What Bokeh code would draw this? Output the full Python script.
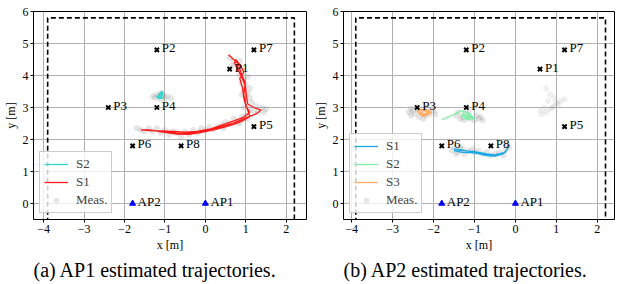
from bokeh.plotting import figure
from bokeh.models import ColumnDataSource, Legend, LegendItem, Title, FixedTicker, Range1d
from bokeh.layouts import row
from bokeh.embed import file_html
from bokeh.resources import INLINE
from bokeh.core.properties import value

# ---------------- data ----------------
pts_names = ["P1", "P2", "P3", "P4", "P5", "P6", "P7", "P8"]
pts_x = [0.6, -1.2, -2.4, -1.2, 1.2, -1.8, 1.2, -0.6]
pts_y = [4.2, 4.8, 3.0, 3.0, 2.4, 1.8, 4.8, 1.8]

ap_names = ["AP1", "AP2"]
ap_x = [0.0, -1.8]
ap_y = [0.0, 0.0]

room_x = [-3.9, -3.9, 2.2, 2.2]
room_y = [-0.6, 5.8, 5.8, -0.6]

x_ticks = [-4, -3, -2, -1, 0, 1, 2]
y_ticks = [0, 1, 2, 3, 4, 5, 6]

# Panel (a): AP1
a_s1_x = [0.57, 0.7, 0.8, 0.85, 0.92, 0.98, 1.0, 1.02, 1.05, 1.2, 1.38, 1.25, 1.1, 0.9, 0.7, 0.5, 0.25, 0.0,
          -0.25, -0.5, -0.75, -1.0, -1.2, -1.4, -1.6,
          -1.3, -1.0, -0.7, -0.4, -0.1, 0.2, 0.45, 0.7, 0.95, 1.1, 1.05, 1.0, 0.95, 0.98, 0.9, 0.8, 0.72, 0.75,
          0.78, 0.88, 0.95, 0.85, 0.92, 0.95, 1.0, 1.1, 0.95, 0.7, 0.4, 0.1, -0.2, -0.5, -0.8, -1.1, -1.4, -1.55]
a_s1_y = [4.65, 4.5, 4.38, 4.2, 3.95, 3.8, 3.55, 3.3, 3.1, 3.0, 2.92, 2.8, 2.72, 2.62, 2.52, 2.44, 2.35, 2.28,
          2.22, 2.19, 2.2, 2.24, 2.27, 2.3, 2.3,
          2.28, 2.22, 2.17, 2.16, 2.22, 2.3, 2.38, 2.47, 2.6, 2.72, 2.9, 3.1, 3.4, 3.7, 3.95, 4.2, 4.4, 4.5,
          4.45, 4.3, 4.1, 3.9, 3.6, 3.3, 3.05, 2.85, 2.7, 2.58, 2.45, 2.32, 2.25, 2.23, 2.25, 2.27, 2.28, 2.3]
a_s2_x = [-1.2, -1.08, -1.1, -1.18, -1.06, -1.04, -1.15, -1.2, -1.07, -1.1, -1.16, -1.12]
a_s2_y = [3.3, 3.5, 3.32, 3.33, 3.48, 3.3, 3.28, 3.32, 3.52, 3.3, 3.36, 3.42]
a_meas_x = [0.6, 0.7, 0.75, 0.85, 0.65, 0.8, 0.9, 0.85, 0.95, 1.05, 0.9, 1.0, 1.1, 0.95, 1.05, 0.9, 1.1, 1.0,
            1.15, 1.25, 1.4, 1.5, 1.3, 1.45, 1.2, 1.1, 0.95,
            1.0, 0.9, 0.8, 0.7, 0.6, 0.5, 0.4, 0.3, 0.2, 0.1, 0.0, -0.1, -0.2, -0.3, -0.4, -0.5, -0.6, -0.7,
            -0.8, -0.9, -1.0, -1.1, -1.2, -1.3, -1.4, -1.5, -1.7, -1.6, -0.15, 0.45, 0.85, 1.05,
            -1.25, -1.15, -1.05, -1.0, -1.2, -1.1, -0.95, -1.3, -1.1, -0.85]
a_meas_y = [4.55, 4.45, 4.35, 4.45, 4.3, 4.2, 4.15, 4.0, 3.9, 3.95, 3.75, 3.7, 3.6, 3.55, 3.45, 3.4, 3.3, 3.2,
            3.15, 3.05, 3.0, 2.95, 2.85, 2.85, 2.9, 2.95, 3.0,
            2.75, 2.7, 2.55, 2.65, 2.5, 2.55, 2.45, 2.4, 2.3, 2.4, 2.3, 2.35, 2.2, 2.3, 2.15, 2.25, 2.1, 2.2,
            2.25, 2.15, 2.3, 2.2, 2.35, 2.25, 2.35, 2.25, 2.35, 2.3, 2.25, 2.35, 2.5, 2.65,
            3.3, 3.35, 3.4, 3.3, 3.4, 3.25, 3.35, 3.35, 3.45, 3.3]

# Panel (b): AP2
b_s1_x = [-1.5, -1.3, -1.0, -0.7, -0.5, -0.3, -0.2, -0.15, -0.25, -0.5, -0.8, -1.1, -1.35, -1.5, -1.3,
          -1.0, -0.7, -0.45, -0.3]
b_s1_y = [1.65, 1.6, 1.58, 1.5, 1.48, 1.55, 1.7, 1.82, 1.6, 1.52, 1.55, 1.62, 1.68, 1.7, 1.65,
          1.62, 1.55, 1.5, 1.58]
b_s2_x = [-1.8, -1.6, -1.4, -1.3, -1.1, -1.0, -1.2, -1.32, -1.25, -1.05, -1.15, -1.3, -1.0, -1.2, -1.1]
b_s2_y = [2.62, 2.72, 2.85, 2.9, 2.78, 2.65, 2.62, 2.75, 2.88, 2.72, 2.62, 2.8, 2.68, 2.7, 2.85]
b_s3_x = [-2.4, -2.1, -2.05, -2.25, -2.35, -2.38, -2.15, -2.25, -2.4, -2.3, -2.1, -2.2, -2.32]
b_s3_y = [2.95, 2.9, 2.82, 2.72, 2.8, 2.92, 2.88, 2.75, 2.88, 2.95, 2.85, 2.78, 2.86]
b_meas_x = [-2.6, -2.55, -2.5, -2.45, -2.35, -2.3, -2.2, -2.1, -2.0, -2.15, -2.4, -2.25, -1.95, -2.55,
            -1.45, -1.4, -1.3, -1.2, -1.1, -1.0, -0.9, -0.8, -0.85, -1.15, -1.25, -0.95, -1.35,
            -1.55, -1.5, -1.4, -1.3, -1.25, -1.15, -1.05, -1.0, -0.9, -0.8, -0.7, -0.6, -0.5, -0.4, -0.3,
            -0.25, -0.15, -0.2, -1.35, -1.45]
b_meas_y = [2.85, 2.75, 2.9, 2.8, 2.7, 2.85, 2.75, 2.8, 2.9, 2.95, 2.95, 2.65, 2.8, 2.95,
            2.75, 2.85, 2.7, 2.8, 2.65, 2.6, 2.65, 2.6, 2.7, 2.9, 2.6, 2.75, 2.65,
            1.65, 1.75, 1.6, 1.7, 1.55, 1.65, 1.7, 1.6, 1.65, 1.55, 1.6, 1.5, 1.55, 1.6, 1.5,
            1.65, 1.75, 1.85, 1.75, 1.55]
b_faint_x = [0.6, 0.65, 0.75, 0.85, 0.95, 1.05, 1.1, 1.2, 0.7, 0.8, 0.85, 0.75, 0.95, 1.0, 0.9]
b_faint_y = [2.9, 2.8, 2.85, 2.95, 3.05, 3.1, 3.2, 3.25, 3.0, 3.2, 3.4, 3.6, 3.3, 3.15, 3.0]

SERIF = "Liberation Serif"
MINUS = "\u2212"


def make_panel(caption, series, meas_x, meas_y, faint=None, width=304, border_left=25, border_right=4,
               xr=(-4.25, 2.5)):
    p = figure(width=width, height=282, output_backend="svg", toolbar_location=None,
               x_range=Range1d(*xr), y_range=Range1d(-0.5, 6.0),
               min_border_left=border_left, min_border_right=border_right,
               min_border_top=11, min_border_bottom=0)
    p.outline_line_color = "black"
    p.outline_line_width = 1
    p.outline_line_alpha = 1
    p.background_fill_color = "white"
    p.border_fill_color = "white"

    for ax in (p.xaxis[0], p.yaxis[0]):
        ax.major_label_text_font = SERIF
        ax.major_label_text_font_size = "12px"
        ax.major_label_text_color = "black"
        ax.axis_label_text_font = SERIF
        ax.axis_label_text_font_size = "12px"
        ax.axis_label_text_font_style = "normal"
        ax.axis_label_text_color = "black"
        ax.axis_line_color = None
        ax.major_tick_line_color = "black"
        ax.major_tick_in = 0
        ax.major_tick_out = 3
        ax.minor_tick_line_color = None
        ax.major_label_standoff = 2
        ax.axis_label_standoff = 2
    p.xaxis[0].ticker = FixedTicker(ticks=x_ticks)
    p.yaxis[0].ticker = FixedTicker(ticks=y_ticks)
    p.xaxis[0].major_label_overrides = {t: (MINUS + str(-t) if t < 0 else str(t)) for t in x_ticks}
    p.xaxis[0].axis_label = "x [m]"
    p.yaxis[0].axis_label = "y [m]"

    p.xgrid[0].ticker = FixedTicker(ticks=x_ticks)
    p.ygrid[0].ticker = FixedTicker(ticks=y_ticks)
    for g in (p.xgrid[0], p.ygrid[0]):
        g.grid_line_color = "#b0b0b0"
        g.grid_line_width = 1

    # room outline
    p.line(room_x, room_y, line_color="black", line_width=1.6, line_dash="5 3")

    # measurements
    meas = p.scatter(meas_x, meas_y, size=6, marker="circle", fill_color="gray", fill_alpha=0.2,
                     line_color=None)
    if faint is not None:
        p.scatter(faint[0], faint[1], size=6, marker="circle", fill_color="gray", fill_alpha=0.12,
                  line_color=None)

    items = []
    for name, xs, ys, col in series:
        r = p.line(xs, ys, line_color=col, line_width=1.3)
        items.append(LegendItem(label=name, renderers=[r]))
    items.append(LegendItem(label="Meas.", renderers=[meas]))

    # reference points
    src = ColumnDataSource(dict(x=pts_x, y=pts_y, t=pts_names))
    p.scatter("x", "y", source=src, marker="x", size=6, line_color="black", line_width=2)
    p.text("x", "y", text="t", source=src, x_offset=5, y_offset=-2, text_font=value(SERIF),
           text_font_size="13px", text_baseline="alphabetic", text_color="black")

    asrc = ColumnDataSource(dict(x=ap_x, y=ap_y, t=ap_names))
    p.scatter("x", "y", source=asrc, marker="triangle", size=6, fill_color="blue", line_color="blue")
    p.text("x", "y", text="t", source=asrc, x_offset=5, y_offset=-2, text_font=value(SERIF),
           text_font_size="13px", text_baseline="alphabetic", text_color="black")

    leg = Legend(items=items, location="bottom_left")
    leg.label_text_font = SERIF
    leg.label_text_font_size = "13px"
    leg.label_height = 14
    leg.glyph_height = 14
    leg.glyph_width = 24
    leg.spacing = 2
    leg.padding = 4
    leg.margin = 6
    leg.label_standoff = 8
    leg.border_line_color = "#cccccc"
    leg.border_line_alpha = 1
    leg.background_fill_alpha = 0.8
    p.add_layout(leg)

    cap = Title(text=caption, align="left", text_font=SERIF, text_font_size="20px",
                text_font_style="normal", text_color="black", standoff=4)
    p.add_layout(cap, "below")
    return p


pa = make_panel("(a) AP1 estimated trajectories.",
                [("S2", a_s2_x, a_s2_y, "#30d5d0"), ("S1", a_s1_x, a_s1_y, "#ff1a1a")],
                a_meas_x, a_meas_y, width=310, border_left=31, border_right=4)
pb = make_panel("(b) AP2 estimated trajectories.",
                [("S1", b_s1_x, b_s1_y, "#18a8e4"), ("S2", b_s2_x, b_s2_y, "#7ff0a8"),
                 ("S3", b_s3_x, b_s3_y, "#ffaa5e")],
                b_meas_x, b_meas_y, faint=(b_faint_x, b_faint_y), width=305, border_left=31, border_right=1,
                xr=(-4.2, 2.42))

layout = row(pa, pb, spacing=0)
open("out.html", "w").write(file_html(layout, INLINE))
